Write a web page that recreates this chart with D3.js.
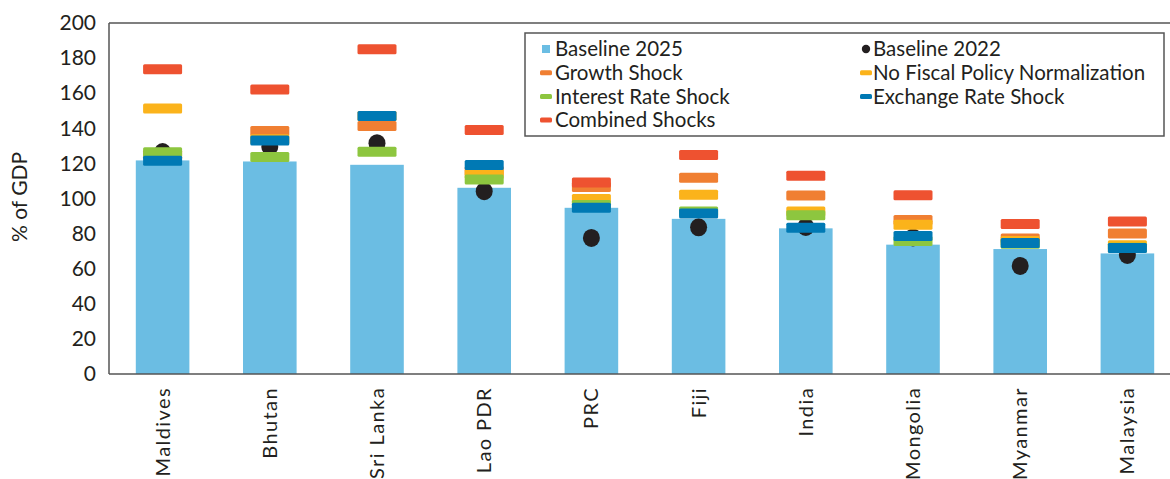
<!DOCTYPE html>
<html><head><meta charset="utf-8">
<script src="https://cdn.jsdelivr.net/npm/d3@7"></script>
<style>
html,body{margin:0;padding:0;background:#fff;}
text{font-family:Lato,"Open Sans",sans-serif;fill:#231f20;}
</style></head>
<body>
<svg id="c" width="1170" height="479"></svg>
<script>
const categories = ["Maldives","Bhutan","Sri Lanka","Lao PDR","PRC","Fiji","India","Mongolia","Myanmar","Malaysia"];
const baseline2025 = [121.7,121.1,119.2,106.1,94.7,88.4,83.0,73.7,71.2,68.7];
const baseline2022 = [126.5,129.5,131.5,104.2,77.5,83.6,83.8,77.8,61.6,67.8];
const growthShock = [125.0,138.4,141.3,115.6,106.5,111.8,101.7,87.7,77.2,80.0];
const noFiscal = [151.3,133.8,147.0,114.0,99.7,102.2,92.6,85.0,75.8,73.4];
const interestShock = [126.3,123.6,126.7,110.8,96.3,92.6,90.5,75.8,74.2,72.0];
const exchangeShock = [121.5,133.0,147.0,119.1,94.7,91.4,83.4,78.6,74.6,71.8];
const combinedShock = [173.7,162.1,185.0,139.0,109.1,124.8,112.9,101.9,85.5,86.9];
const yTicks = [0,20,40,60,80,100,120,140,160,180,200];

const dashSeries = [
  {name:"Growth Shock", values:growthShock, color:"#F07F32"},
  {name:"No Fiscal Policy Normalization", values:noFiscal, color:"#FBB31B"},
  {name:"Interest Rate Shock", values:interestShock, color:"#8DC63F"},
  {name:"Exchange Rate Shock", values:exchangeShock, color:"#0079B4"},
  {name:"Combined Shocks", values:combinedShock, color:"#EE5230"}
];
const barColor = "#6BBDE3", dotColor = "#231F20";

const svg = d3.select("#c");
const mLeft = 109, mTop = 23, mBottom = 374, mRight = 1181;
const x = d3.scaleBand().domain(categories).range([mLeft,mRight]).paddingInner(0.5).paddingOuter(0.25);
const y = d3.scaleLinear().domain([0,200]).range([mBottom,mTop]);

// bars
svg.append("g").selectAll("rect").data(categories).join("rect")
  .attr("x", d=>x(d)).attr("width", x.bandwidth())
  .attr("y", (d,i)=>y(baseline2025[i])).attr("height",(d,i)=>y(0)-y(baseline2025[i]))
  .attr("fill", barColor);

// dots
svg.append("g").selectAll("ellipse").data(categories).join("ellipse")
  .attr("cx", d=>x(d)+x.bandwidth()/2).attr("cy",(d,i)=>y(baseline2022[i]))
  .attr("rx",8.5).attr("ry",9).attr("fill",dotColor);

// dashes
const dw = 39, dh = 10;
dashSeries.forEach(s=>{
  svg.append("g").selectAll("rect").data(categories).join("rect")
    .attr("x", d=>x(d)+x.bandwidth()/2-dw/2).attr("width",dw)
    .attr("y",(d,i)=>y(s.values[i])-dh/2).attr("height",dh)
    .attr("rx",1.5).attr("fill",s.color);
});

// plot frame
const frame = svg.append("g").attr("fill","none").attr("stroke","#555").attr("stroke-width",1.5);
frame.append("line").attr("x1",mLeft).attr("x2",1170).attr("y1",mTop).attr("y2",mTop);
frame.append("line").attr("x1",mLeft).attr("x2",1170).attr("y1",mBottom).attr("y2",mBottom);
frame.append("line").attr("x1",mLeft).attr("x2",mLeft).attr("y1",mTop).attr("y2",mBottom);

// y axis labels
const yAxis = d3.axisLeft(y).tickValues(yTicks).tickSize(0).tickPadding(13);
const gy = svg.append("g").attr("transform",`translate(${mLeft},0)`).call(yAxis);
gy.select(".domain").remove();
gy.selectAll("text").attr("font-size",21).attr("font-family","Lato,sans-serif").attr("fill","#231f20");

// x axis labels
const xAxis = d3.axisBottom(x).tickSize(0).tickPadding(0);
const gx = svg.append("g").attr("transform",`translate(0,${mBottom})`).call(xAxis);
gx.select(".domain").remove();
gx.selectAll("text")
  .attr("font-size",20).attr("font-family","Lato,sans-serif").attr("fill","#231f20")
  .attr("letter-spacing","1.4px")
  .attr("text-anchor","end").attr("dy","0.35em")
  .attr("transform","translate(0,13) rotate(-90)").attr("x",0).attr("y",0);

// y title
svg.append("text").attr("transform","translate(27,197) rotate(-90)")
  .attr("text-anchor","middle").attr("font-size",21).text("% of GDP");

// legend
const lg = svg.append("g");
lg.append("rect").attr("x",525).attr("y",33).attr("width",639).attr("height",103)
  .attr("fill","#fff").attr("stroke","#555").attr("stroke-width",1.5);
const legendItems = [
  {name:"Baseline 2025", type:"square", color:barColor},
  {name:"Baseline 2022", type:"dot", color:dotColor},
  ...dashSeries.map(s=>({name:s.name,type:"dash",color:s.color}))
];
legendItems.forEach((it,i)=>{
  const col = i%2, row = Math.floor(i/2);
  const cx0 = col===0 ? 546 : 866;
  const cy = 49 + row*23.7;
  const g = lg.append("g");
  if(it.type==="square") g.append("rect").attr("x",cx0-4).attr("y",cy-4).attr("width",8).attr("height",8).attr("fill",it.color);
  else if(it.type==="dot") g.append("circle").attr("cx",cx0).attr("cy",cy).attr("r",4.2).attr("fill",it.color);
  else g.append("rect").attr("x",cx0-6).attr("y",cy-2.5).attr("width",12).attr("height",5).attr("rx",1.5).attr("fill",it.color);
  g.append("text").attr("x", col===0 ? 555 : 873).attr("y",cy).attr("dy","0.35em")
    .attr("font-size",20.5).text(it.name);
});
</script>
</body></html>
